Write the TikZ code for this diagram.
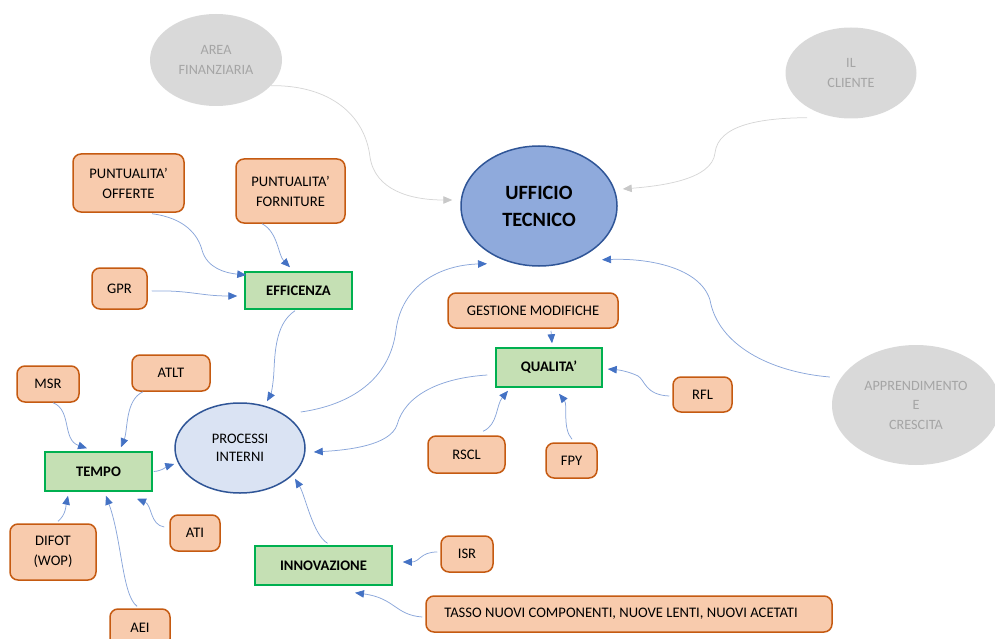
\documentclass[tikz,border=0pt]{standalone}
\usepackage{fontspec}
\setmainfont{Carlito}
\usetikzlibrary{arrows.meta,shapes.geometric,calc}

\definecolor{kpifill}{HTML}{F8CBAD}
\definecolor{kpiborder}{HTML}{C55A11}
\definecolor{areafill}{HTML}{C5E0B4}
\definecolor{areaborder}{HTML}{00B050}
\definecolor{corefill}{HTML}{8FAADC}
\definecolor{coreborder}{HTML}{2F5597}
\definecolor{procfill}{HTML}{DAE3F3}
\definecolor{perspfill}{HTML}{D9D9D9}
\definecolor{persptext}{HTML}{A5A5A5}
\definecolor{linkblue}{HTML}{8AA6DA}
\definecolor{tipblue}{HTML}{4472C4}
\definecolor{linkgrey}{HTML}{D6D6D6}
\definecolor{tipgrey}{HTML}{C8C8C8}

\begin{document}
\begin{tikzpicture}[x=1pt,y=-1pt,
  kpi/.style={draw=kpiborder, fill=kpifill, line width=1.5pt, rounded corners=8pt,
    inner sep=0pt, align=center, font=\fontsize{14.6}{20}\selectfont},
  area/.style={draw=areaborder, fill=areafill, line width=1.5pt, inner sep=0pt,
    align=center, font=\bfseries\fontsize{14.6}{20}\selectfont},
  persp/.style={ellipse, fill=perspfill, text=persptext, inner sep=0pt, align=center,
    font=\fontsize{14.2}{19.5}\selectfont},
  link/.style={draw=linkblue, line width=0.75pt,
    -{Triangle[length=9pt,width=7.5pt,color=tipblue]}},
  greylink/.style={draw=linkgrey, line width=0.75pt,
    -{Triangle[length=9pt,width=7.5pt,color=tipgrey]}}]
\useasboundingbox (0,0) rectangle (995,639);
\clip (0,0) rectangle (995,639);

% perspectives
\node[persp, minimum width=132pt, minimum height=92pt] (area) at (216,60) {AREA\\FINANZIARIA};
\node[persp, minimum width=131pt, minimum height=91pt] (cliente) at (851,73) {IL\\CLIENTE};
\node[persp, minimum width=168pt, minimum height=120pt] (apprend) at (916,405) {APPRENDIMENTO\\E\\CRESCITA};

% central nodes
\node[ellipse, draw=coreborder, fill=corefill, line width=1.5pt, inner sep=0pt,
  minimum width=156pt, minimum height=120pt, align=center,
  font=\bfseries\fontsize{20.3}{27}\selectfont] (ufficio) at (539,206) {UFFICIO\\TECNICO};
\node[ellipse, draw=coreborder, fill=procfill, line width=1.5pt, inner sep=0pt,
  minimum width=130pt, minimum height=90pt, align=center,
  font=\fontsize{14.5}{18}\selectfont] (processi) at (240,448) {PROCESSI\\INTERNI};

% areas
\node[area, minimum width=107pt, minimum height=37pt] (efficenza) at (298.5,290.5) {EFFICENZA};
\node[area, minimum width=106pt, minimum height=39pt] (qualita) at (549,367.5) {QUALITA’};
\node[area, minimum width=107pt, minimum height=39pt] (tempo) at (98.5,471.5) {TEMPO};
\node[area, minimum width=137pt, minimum height=39pt] (innovazione) at (323.5,565.5) {INNOVAZIONE};

% indicators
\node[kpi, minimum width=111pt, minimum height=58pt] (offerte) at (128.5,183) {PUNTUALITA’\\OFFERTE};
\node[kpi, minimum width=109pt, minimum height=64pt] (forniture) at (290.5,191) {PUNTUALITA’\\FORNITURE};
\node[kpi, minimum width=55pt, minimum height=41pt] (gpr) at (119.5,288.5) {GPR};
\node[kpi, minimum width=170pt, minimum height=35pt] (gestione) at (533,310.5) {GESTIONE MODIFICHE};
\node[kpi, minimum width=59pt, minimum height=35pt] (rfl) at (702.5,394.5) {RFL};
\node[kpi, minimum width=77pt, minimum height=37pt] (rscl) at (466.5,454.5) {RSCL};
\node[kpi, minimum width=51pt, minimum height=35pt] (fpy) at (571.5,460.5) {FPY};
\node[kpi, minimum width=62pt, minimum height=36pt] (msr) at (48,384) {MSR};
\node[kpi, minimum width=78pt, minimum height=36pt] (atlt) at (171,373) {ATLT};
\node[kpi, minimum width=86pt, minimum height=56pt] (difot) at (53,552) {DIFOT\\(WOP)};
\node[kpi, minimum width=50pt, minimum height=36pt] (ati) at (195,533) {ATI};
\node[kpi, minimum width=60pt, minimum height=38pt] (aei) at (140,628) {AEI};
\node[kpi, minimum width=52pt, minimum height=36pt] (isr) at (467,554) {ISR};
\node[kpi, minimum width=406pt, minimum height=36pt] (tasso) at (629,614) {TASSO NUOVI COMPONENTI, NUOVE LENTI, NUOVI ACETATI\hspace*{16pt}};

% perspectives towards the technical office
\draw[greylink] (area.-25) .. controls (330,85) and (365,115) .. (370,157)
  .. controls (375,190) and (410,200) .. ($(ufficio.west)+(-8,-6)$);
\draw[greylink] ($(cliente.south)+(-44,-1)$) .. controls (760,118) and (718,125) .. (715,153)
  .. controls (712,180) and (660,186) .. ($(ufficio.east)+(5,-17)$);
\draw[link] ($(apprend.west)+(-2,-28)$) .. controls (770,372) and (718,345) .. (710,300)
  .. controls (700,268) and (650,258) .. ($(ufficio.south)+(63,-7)$);
\draw[link] ($(processi.east)+(-5,-36)$) .. controls (350,405) and (390,380) .. (396,330)
  .. controls (402,285) and (440,265) .. ($(ufficio.south)+(-52,-3)$);

% areas towards internal processes
\draw[link] ($(qualita.west)+(-8,7.5)$) .. controls (440,378) and (405,395) .. (397,425)
  .. controls (390,445) and (350,450) .. ($(processi.east)+(8,4)$);
\draw[link] ($(efficenza.south)+(-3.5,1)$) .. controls (278,322) and (275,345) .. (274,370)
  .. controls (273,390) and (270,396) .. ($(processi.north)+(27,-1)$);
\draw[link] ($(tempo.east)+(1,0)$) .. controls (162,471) and (168,466) .. ($(processi.west)+(0,16)$);
\draw[link] ($(innovazione.north)+(4,-2)$) .. controls (313,535) and (305,495) .. ($(processi.south)+(55,-15)$);

% indicators of efficiency
\draw[link] ($(offerte.south)+(23.5,1)$) .. controls (185,218) and (198,235) .. (202,250)
  .. controls (207,268) and (225,273) .. ($(efficenza.west)+(2,-15.5)$);
\draw[link] ($(forniture.south)+(-28.5,0)$) .. controls (278,232) and (278,255) .. ($(efficenza.north)+(-8.5,-4)$);
\draw[link] ($(gpr.east)+(4,2.5)$) .. controls (190,290) and (200,296) .. ($(efficenza.west)+(-7,5.5)$);

% indicators of quality
\draw[link] ($(gestione.south)+(18,2)$) -- ($(qualita.north)+(3,-4)$);
\draw[link] ($(rscl.north)+(16.5,-4)$) .. controls (498,425) and (496,405) .. ($(qualita.south)+(-41,3)$);
\draw[link] ($(fpy.north)+(0.5,-3)$) .. controls (562,428) and (568,405) .. ($(qualita.south)+(10,6)$);
\draw[link] ($(rfl.west)+(-3,1.5)$) .. controls (645,395) and (645,380) .. (638,376)
  .. controls (630,372) and (620,370) .. ($(qualita.east)+(5,1.5)$);

% indicators of time
\draw[link] ($(msr.south)+(5,0)$) .. controls (72,410) and (62,440) .. ($(tempo.north)+(-11.5,-3)$);
\draw[link] ($(atlt.south)+(-28,0)$) .. controls (125,400) and (128,430) .. ($(tempo.north)+(22.5,-4)$);
\draw[link] ($(difot.north)+(5,-2)$) .. controls (66,515) and (66,505) .. ($(tempo.south)+(-30.5,4)$);
\draw[link] ($(aei.north)+(-3,-2)$) .. controls (122,595) and (122,540) .. ($(tempo.south)+(7.5,4)$);
\draw[link] ($(ati.west)+(-5,-6)$) .. controls (150,525) and (152,505) .. ($(tempo.south)+(38.5,7)$);

% indicators of innovation
\draw[link] ($(isr.west)+(-3,-2)$) .. controls (420,552) and (420,562) .. ($(innovazione.east)+(10,-3.5)$);
\draw[link] ($(tasso.west)+(-3,3)$) .. controls (395,615) and (395,598) .. ($(innovazione.south)+(31.5,7)$);
\end{tikzpicture}
\end{document}
